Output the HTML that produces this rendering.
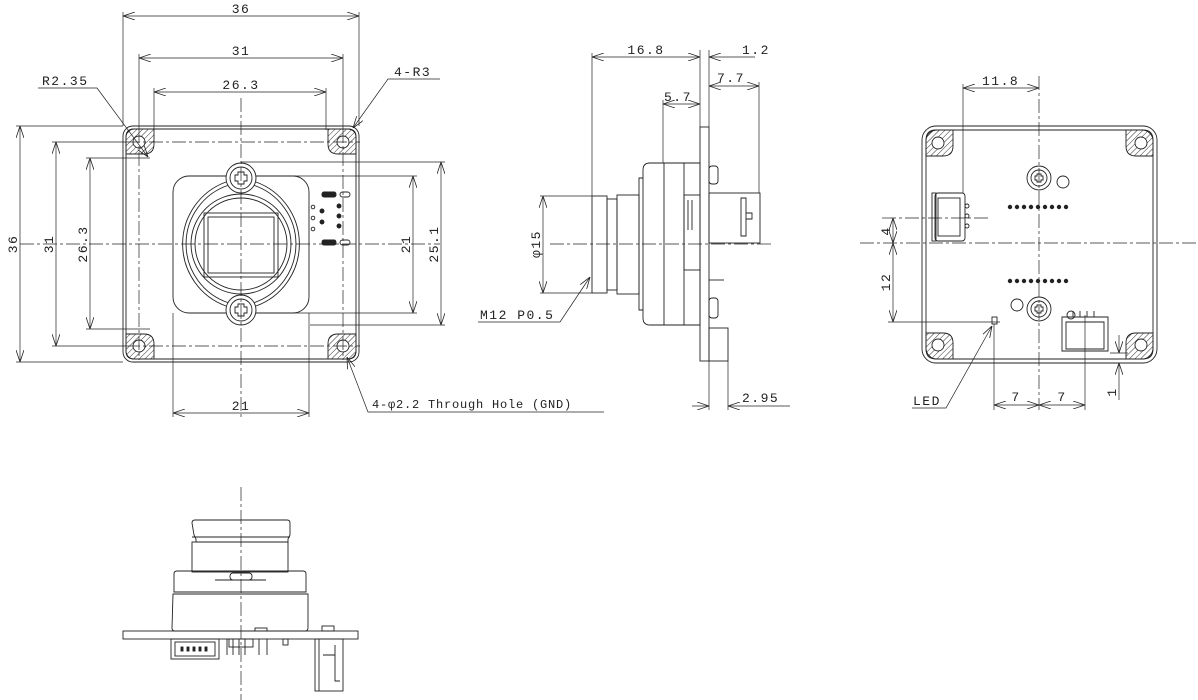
<!DOCTYPE html>
<html><head><meta charset="utf-8"><style>
html,body{margin:0;padding:0;background:#fff;}
svg{display:block;}
text{font-family:"Liberation Mono","DejaVu Sans Mono",monospace;font-size:13px;fill:#222;letter-spacing:1.5px;}
</style></head><body>
<svg width="1198" height="700" viewBox="0 0 1198 700" xmlns="http://www.w3.org/2000/svg">
<defs>
<pattern id="h" width="4" height="4" patternUnits="userSpaceOnUse" patternTransform="rotate(45)"><line x1="0" y1="0" x2="0" y2="4" stroke="#333" stroke-width="1"/></pattern>
<marker id="a" viewBox="0 0 12 8" refX="12" refY="4" markerWidth="12" markerHeight="8" orient="auto-start-reverse" markerUnits="userSpaceOnUse"><path d="M0,0 L12,4 L0,8" fill="none" stroke="#222" stroke-width="0.8"/></marker>
</defs>
<g stroke="#222" stroke-width="0.9" fill="none">
<!-- ===== FRONT VIEW ===== -->
<rect x="123" y="126" width="236" height="236" rx="10"/>
<rect x="126" y="129" width="230" height="230" rx="8"/>
<g fill="url(#h)">
<path d="M126,137 q0,-8 8,-8 h20 v15 q0,10 -10,10 h-18z"/>
<path d="M356,137 q0,-8 -8,-8 h-20 v15 q0,10 10,10 h18z"/>
<path d="M126,351 q0,8 8,8 h20 v-15 q0,-10 -10,-10 h-18z"/>
<path d="M356,351 q0,8 -8,8 h-20 v-15 q0,-10 10,-10 h18z"/>
</g>
<g fill="#fff"><circle cx="139" cy="142" r="6"/><circle cx="343" cy="142" r="6"/><circle cx="139" cy="346" r="6"/><circle cx="343" cy="346" r="6"/></g>
<rect x="173" y="176" width="136" height="137" rx="16"/>
<path d="M226,182 A66,66 0 0 0 226,306 M256,182 A66,66 0 0 1 256,306"/>
<path d="M229,185 A62,62 0 0 0 229,303 M253,185 A62,62 0 0 1 253,303"/>
<circle cx="241" cy="178" r="15" fill="#fff"/><circle cx="241" cy="178" r="11"/>
<circle cx="241" cy="310" r="15" fill="#fff"/><circle cx="241" cy="310" r="11"/>
<path d="M238,172h6v3h3v6h-3v3h-6v-3h-3v-6h3z"/><path d="M238,304h6v3h3v6h-3v3h-6v-3h-3v-6h3z"/>
<circle cx="241" cy="244" r="50"/><circle cx="241" cy="244" r="46"/>
<rect x="204" y="213" width="74" height="64"/><rect x="208" y="217" width="66" height="56"/>
<g fill="#222"><rect x="322" y="192" width="14" height="5" rx="2"/><rect x="322" y="240" width="14" height="5" rx="2"/>
<circle cx="322" cy="211" r="2"/><circle cx="322" cy="222" r="2"/><circle cx="339" cy="206" r="2"/><circle cx="339" cy="216" r="2"/><circle cx="339" cy="226" r="2"/></g>
<rect x="340" y="192" width="10" height="5" rx="2.5"/><rect x="340" y="240" width="10" height="5" rx="2.5"/>
<circle cx="313" cy="207" r="1.8"/><circle cx="313" cy="218" r="1.8"/><circle cx="313" cy="229" r="1.8"/>
<g stroke-dasharray="14,3,3,3" stroke-width="0.7">
<line x1="20" y1="244" x2="440" y2="244"/><line x1="241" y1="98" x2="241" y2="420"/>
<line x1="126" y1="142" x2="360" y2="142"/><line x1="126" y1="346" x2="360" y2="346"/>
<line x1="139" y1="129" x2="139" y2="360"/><line x1="343" y1="129" x2="343" y2="360"/>
</g>
<g stroke-width="0.7">
<line x1="123" y1="12" x2="123" y2="126"/><line x1="359" y1="12" x2="359" y2="126"/>
<line x1="139" y1="54" x2="139" y2="130"/><line x1="343" y1="54" x2="343" y2="130"/>
<line x1="154" y1="88" x2="154" y2="130"/><line x1="326" y1="88" x2="326" y2="130"/>
<line x1="16" y1="126" x2="123" y2="126"/><line x1="16" y1="362" x2="123" y2="362"/>
<line x1="52" y1="142" x2="126" y2="142"/><line x1="52" y1="346" x2="126" y2="346"/>
<line x1="86" y1="158" x2="150" y2="158"/><line x1="86" y1="329" x2="150" y2="329"/>
<line x1="256" y1="176" x2="417" y2="176"/><line x1="256" y1="313" x2="417" y2="313"/>
<line x1="241" y1="162" x2="445" y2="162"/><line x1="310" y1="325" x2="445" y2="325"/>
<line x1="173" y1="313" x2="173" y2="417"/><line x1="309" y1="313" x2="309" y2="417"/>
<line x1="123" y1="16" x2="359" y2="16" marker-start="url(#a)" marker-end="url(#a)"/>
<line x1="139" y1="58" x2="343" y2="58" marker-start="url(#a)" marker-end="url(#a)"/>
<line x1="154" y1="92" x2="326" y2="92" marker-start="url(#a)" marker-end="url(#a)"/>
<line x1="20" y1="126" x2="20" y2="362" marker-start="url(#a)" marker-end="url(#a)"/>
<line x1="56" y1="142" x2="56" y2="346" marker-start="url(#a)" marker-end="url(#a)"/>
<line x1="90" y1="158" x2="90" y2="329" marker-start="url(#a)" marker-end="url(#a)"/>
<line x1="413" y1="176" x2="413" y2="313" marker-start="url(#a)" marker-end="url(#a)"/>
<line x1="441" y1="162" x2="441" y2="325" marker-start="url(#a)" marker-end="url(#a)"/>
<line x1="173" y1="413" x2="309" y2="413" marker-start="url(#a)" marker-end="url(#a)"/>
<polyline points="38,88 97,88 148,157" marker-end="url(#a)"/>
<polyline points="440,79 388,79 353,128" marker-end="url(#a)"/>
<polyline points="604,412 368,412 347,357" marker-end="url(#a)"/>
</g>
</g>
<text x="241" y="13" text-anchor="middle">36</text>
<text x="241" y="55" text-anchor="middle">31</text>
<text x="241" y="89" text-anchor="middle">26.3</text>
<text x="42" y="85">R2.35</text>
<text x="394" y="76">4-R3</text>
<text x="241" y="410" text-anchor="middle">21</text>
<text x="372" y="408" style="font-size:12px;letter-spacing:0.8px">4-φ2.2 Through Hole (GND)</text>
<text transform="translate(17,244) rotate(-90)" text-anchor="middle">36</text>
<text transform="translate(53,244) rotate(-90)" text-anchor="middle">31</text>
<text transform="translate(87,244) rotate(-90)" text-anchor="middle">26.3</text>
<text transform="translate(410,244) rotate(-90)" text-anchor="middle">21</text>
<text transform="translate(438,244) rotate(-90)" text-anchor="middle">25.1</text>

<!-- ===== SIDE VIEW ===== -->
<g stroke="#222" stroke-width="0.9" fill="none">
<rect x="700" y="127" width="9" height="234"/>
<path d="M650,163 h50 v162 h-50 q-7,0 -7,-7 v-148 q0,-7 7,-7z"/>
<line x1="664" y1="163" x2="664" y2="325"/><line x1="684" y1="163" x2="684" y2="325"/>
<path d="M643,178 h-4 v132 h4"/>
<rect x="592" y="196" width="15" height="97"/>
<rect x="607" y="199" width="10" height="91"/>
<rect x="617" y="195" width="22" height="99"/>
<rect x="684" y="195" width="16" height="75"/>
<line x1="688" y1="200" x2="688" y2="230"/><line x1="692" y1="200" x2="692" y2="230"/>
<rect x="709" y="193" width="51" height="50"/>
<path d="M741,198 h5 v38 h-5z M746,213 h6 v6 h-6"/>
<rect x="709" y="166" width="9" height="18" rx="3"/><rect x="709" y="298" width="9" height="20" rx="3"/>
<rect x="709" y="328" width="19" height="33"/>
<line x1="709" y1="280" x2="724" y2="280"/>
<g stroke-width="0.7">
<line x1="592" y1="53" x2="592" y2="196"/><line x1="700" y1="50" x2="700" y2="127"/><line x1="709" y1="50" x2="709" y2="127"/>
<line x1="759" y1="82" x2="759" y2="193"/><line x1="663" y1="100" x2="663" y2="163"/>
<line x1="540" y1="196" x2="592" y2="196"/><line x1="540" y1="293" x2="592" y2="293"/>
<line x1="709" y1="361" x2="709" y2="410"/><line x1="728" y1="361" x2="728" y2="410"/>
<line x1="592" y1="57" x2="700" y2="57" marker-start="url(#a)" marker-end="url(#a)"/>
<line x1="709" y1="57" x2="755" y2="57" marker-start="url(#a)"/>
<line x1="709" y1="86" x2="759" y2="86" marker-start="url(#a)" marker-end="url(#a)"/>
<line x1="663" y1="104" x2="700" y2="104" marker-start="url(#a)" marker-end="url(#a)"/>
<line x1="543" y1="196" x2="543" y2="293" marker-start="url(#a)" marker-end="url(#a)"/>
<line x1="692" y1="406" x2="709" y2="406" marker-end="url(#a)"/>
<line x1="728" y1="406" x2="790" y2="406" marker-start="url(#a)"/>
<polyline points="478,322 560,322 590,277" marker-end="url(#a)"/>
<line x1="550" y1="244" x2="772" y2="244" stroke-dasharray="14,3,3,3"/>
</g>
</g>
<text x="646" y="54" text-anchor="middle">16.8</text>
<text x="742" y="54">1.2</text>
<text x="717" y="82">7.7</text>
<text x="664" y="101">5.7</text>
<text transform="translate(540,244) rotate(-90)" text-anchor="middle">φ15</text>
<text x="480" y="319">M12 P0.5</text>
<text x="742" y="402">2.95</text>

<!-- ===== BACK VIEW ===== -->
<g stroke="#222" stroke-width="0.9" fill="none">
<rect x="922" y="126" width="235" height="237" rx="14"/>
<rect x="926" y="130" width="227" height="229" rx="11"/>
<g fill="url(#h)">
<path d="M926,140 q0,-10 10,-10 h17 v16 q0,10 -10,10 h-17z"/>
<path d="M1153,140 q0,-10 -10,-10 h-17 v16 q0,10 10,10 h17z"/>
<path d="M926,349 q0,10 10,10 h17 v-16 q0,-10 -10,-10 h-17z"/>
<path d="M1153,349 q0,10 -10,10 h-17 v-16 q0,-10 10,-10 h17z"/>
</g>
<g fill="#fff"><circle cx="938" cy="143" r="6"/><circle cx="1141" cy="143" r="6"/><circle cx="938" cy="345" r="6"/><circle cx="1141" cy="345" r="6"/></g>
<circle cx="1039" cy="178" r="12"/><circle cx="1039" cy="178" r="8"/><circle cx="1063" cy="182" r="6"/>
<circle cx="1039" cy="309" r="12"/><circle cx="1039" cy="309" r="8"/><circle cx="1017" cy="305" r="6"/>
<path d="M1037,174h4v2h2v4h-2v2h-4v-2h-2v-4h2z"/><path d="M1037,305h4v2h2v4h-2v2h-4v-2h-2v-4h2z"/>
<rect x="935" y="193" width="30" height="48" rx="3"/><rect x="938" y="198" width="22" height="38"/>
<rect x="932" y="193" width="4" height="48"/>
<circle cx="967" cy="206" r="2"/><circle cx="967" cy="216" r="2"/><circle cx="967" cy="226" r="2"/>
<rect x="992" y="317" width="5" height="7"/>
<path d="M1062,317 h46 v34 h-46z M1066,322 h38 v27 h-38z"/><line x1="1073" y1="317" x2="1073" y2="311"/><line x1="1080" y1="317" x2="1080" y2="311"/><line x1="1087" y1="317" x2="1087" y2="311"/><line x1="1094" y1="317" x2="1094" y2="311"/>
<circle cx="1071" cy="315" r="4"/>
<g stroke-width="0.7">
<line x1="860" y1="243" x2="1198" y2="243" stroke-dasharray="14,3,3,3"/>
<line x1="1039" y1="76" x2="1039" y2="410" stroke-dasharray="14,3,3,3"/>
<line x1="882" y1="218" x2="988" y2="218" stroke-dasharray="14,3,3,3"/>
<line x1="963" y1="84" x2="963" y2="193"/>
<line x1="963" y1="88" x2="1039" y2="88" marker-start="url(#a)" marker-end="url(#a)"/>
<line x1="893" y1="218" x2="893" y2="243" marker-start="url(#a)" marker-end="url(#a)"/>
<line x1="893" y1="243" x2="893" y2="322" marker-start="url(#a)" marker-end="url(#a)"/>
<line x1="888" y1="322" x2="1000" y2="322"/>
<line x1="994" y1="324" x2="994" y2="410"/><line x1="1085" y1="315" x2="1085" y2="410"/>
<line x1="994" y1="405" x2="1039" y2="405" marker-start="url(#a)" marker-end="url(#a)"/>
<line x1="1039" y1="405" x2="1085" y2="405" marker-start="url(#a)" marker-end="url(#a)"/>
<line x1="1110" y1="353" x2="1128" y2="353"/>
<line x1="1119" y1="335" x2="1119" y2="353" marker-end="url(#a)"/>
<line x1="1119" y1="400" x2="1119" y2="363" marker-end="url(#a)"/>
<polyline points="912,408 946,408 992,326" marker-end="url(#a)"/>
</g>
</g>
<g fill="#222"><circle cx="1010" cy="207" r="2.2"/><circle cx="1017" cy="207" r="2.2"/><circle cx="1024" cy="207" r="2.2"/><circle cx="1031" cy="207" r="2.2"/><circle cx="1038" cy="207" r="2.2"/><circle cx="1045" cy="207" r="2.2"/><circle cx="1052" cy="207" r="2.2"/><circle cx="1059" cy="207" r="2.2"/><circle cx="1066" cy="207" r="2.2"/>
<circle cx="1010" cy="281" r="2.2"/><circle cx="1017" cy="281" r="2.2"/><circle cx="1024" cy="281" r="2.2"/><circle cx="1031" cy="281" r="2.2"/><circle cx="1038" cy="281" r="2.2"/><circle cx="1045" cy="281" r="2.2"/><circle cx="1052" cy="281" r="2.2"/><circle cx="1059" cy="281" r="2.2"/><circle cx="1066" cy="281" r="2.2"/></g>
<text x="982" y="85">11.8</text>
<text transform="translate(890,231) rotate(-90)" text-anchor="middle">4</text>
<text transform="translate(890,282) rotate(-90)" text-anchor="middle">12</text>
<text x="1016" y="401" text-anchor="middle">7</text>
<text x="1062" y="401" text-anchor="middle">7</text>
<text transform="translate(1116,392) rotate(-90)" text-anchor="middle">1</text>
<text x="913" y="405">LED</text>

<!-- ===== BOTTOM VIEW ===== -->
<g stroke="#222" stroke-width="0.9" fill="none">
<path d="M192,523 q0,-3 3,-3 h92 q3,0 3,3 v12 l-2,4 v3 h-92 v-3 l-2,-4z"/>
<line x1="192" y1="537" x2="290" y2="537"/>
<rect x="192" y="542" width="96" height="30"/>
<path d="M174,574 q0,-3 3,-3 h126 q3,0 3,3 v18 h-132z"/>
<path d="M173,594 h135 v34 q0,3 -3,3 h-130 q-3,0 -3,-3z"/>
<rect x="230" y="573" width="22" height="7" rx="3"/><line x1="215" y1="580" x2="266" y2="580"/>
<rect x="123" y="631" width="235" height="8"/>
<rect x="171" y="639" width="48" height="20"/><rect x="175" y="642" width="40" height="14"/>
<g fill="#222"><rect x="181" y="647" width="2" height="4"/><rect x="187" y="647" width="2" height="4"/><rect x="193" y="647" width="2" height="4"/><rect x="199" y="647" width="2" height="4"/><rect x="205" y="647" width="2" height="4"/></g>
<line x1="227" y1="639" x2="227" y2="655"/><line x1="233" y1="639" x2="233" y2="655"/><line x1="239" y1="639" x2="239" y2="655"/><line x1="245" y1="639" x2="245" y2="655"/><line x1="259" y1="639" x2="259" y2="655"/><line x1="267" y1="639" x2="267" y2="655"/>
<rect x="229" y="639" width="24" height="8"/>
<rect x="255" y="628" width="12" height="3"/><rect x="283" y="639" width="5" height="6"/>
<rect x="322" y="626" width="12" height="5"/>
<rect x="315" y="639" width="28" height="52"/><line x1="319" y1="639" x2="319" y2="691"/>
<path d="M323,655 h12 v-10 M335,655 v26 h5"/>
<line x1="241" y1="487" x2="241" y2="700" stroke-dasharray="14,3,3,3" stroke-width="0.7"/>
</g>
</svg>
</body></html>
